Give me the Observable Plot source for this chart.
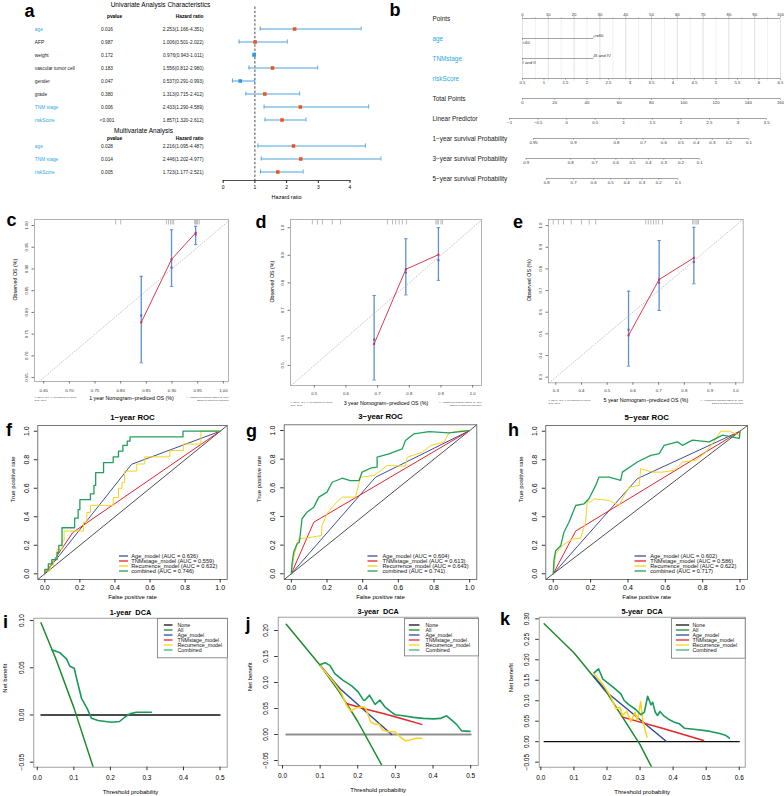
<!DOCTYPE html>
<html><head><meta charset="utf-8">
<script src="https://cdn.jsdelivr.net/npm/d3@7"></script>
<script src="https://cdn.jsdelivr.net/npm/@observablehq/plot@0.6"></script>
<style>
body{margin:0;background:#fff;}
#page{position:relative;width:784px;height:796px;overflow:hidden;background:#fff;font-family:"Liberation Sans",Arial,Helvetica,sans-serif;}
.letter{position:absolute;font-weight:bold;font-size:18px;line-height:18px;color:#000;}
</style></head>
<body><div id="page"></div>
<script>
// ================= DATA =================
// a: forest plot
const faLabels = ["age","AFP","weight","vascular tumor cell","gender","grade","TNM stage","riskScore"];
const faP = ["0.016","0.987","0.172","0.183","0.047","0.380","0.006","<0.001"];
const faHR = [2.253,1.006,0.976,1.556,0.537,1.313,2.433,1.857];
const faLo = [1.166,0.501,0.943,0.812,0.291,0.715,1.290,1.320];
const faHi = [4.351,2.022,1.011,2.980,0.993,2.412,4.589,2.612];
const faSig = [1,0,0,0,0,0,1,1];
const maLabels = ["age","TNM stage","riskScore"];
const maP = ["0.028","0.014","0.005"];
const maHR = [2.216,2.446,1.723];
const maLo = [1.095,1.202,1.177];
const maHi = [4.487,4.977,2.521];
const forestTicks = [0,1,2,3,4];

// b: nomogram
const nomoKeys = ["Points","age","TNMstage","riskScore","Total Points","Linear Predictor","1\u2212year survival Probability","3\u2212year survival Probability","5\u2212year survival Probability"];
const nomoBlue = ["age","TNMstage","riskScore"];
const pointsTicks = [0,10,20,30,40,50,60,70,80,90,100];
const pointsMinor = [5,15,25,35,45,55,65,75,85,95];
const ageLevels = ["<60",">=60"];
const agePoints = [0,27.6];
const tnmLevels = ["I and II","III and IV"];
const tnmPoints = [0,27.6];
const riskTicks = [0.5,1,1.5,2,2.5,3,3.5,4,4.5,5,5.5,6,6.5];
const totalTicks = [0,20,40,60,80,100,120,140,160];
const lpTicks = [-1,-0.5,0,0.5,1,1.5,2,2.5,3,3.5];
const lpAxisPoints = [-5.0, 94.6];
const surv1Labels = ["0.95","0.9","0.8","0.7","0.6","0.5","0.4","0.3","0.2","0.1"];
const surv1LP = [-0.58,0.12,0.87,1.34,1.70,2.00,2.27,2.55,2.84,3.19];
const surv3Labels = ["0.9","0.8","0.7","0.6","0.5","0.4","0.3","0.2","0.1"];
const surv3LP = [-0.71,0.07,0.49,0.86,1.15,1.43,1.70,2.00,2.33];
const surv5Labels = ["0.8","0.7","0.6","0.5","0.4","0.3","0.2","0.1"];
const surv5LP = [-0.35,0.12,0.47,0.77,1.05,1.32,1.61,1.95];

// c-e: calibration
const calC = {pred:[0.840,0.899,0.946], obs:[0.777,0.922,0.983], km:[0.793,0.903,0.979], lo:[0.684,0.860,0.956], hi:[0.883,0.990,0.998],
  rug:[0.79,0.80,0.889,0.893,0.897,0.90,0.903,0.944,0.946,0.948,0.95,0.953]};
const calD = {pred:[0.689,0.789,0.892], obs:[0.578,0.849,0.902], km:[0.594,0.837,0.882], lo:[0.447,0.756,0.809], hi:[0.754,0.960,1.0],
  rug:[0.494,0.51,0.526,0.557,0.583,0.731,0.747,0.757,0.768,0.778,0.791,0.884,0.888,0.892,0.9,0.905]};
const calE = {pred:[0.583,0.702,0.837], obs:[0.493,0.751,0.851], km:[0.519,0.736,0.831], lo:[0.351,0.608,0.731], hi:[0.697,0.931,0.992],
  rug:[0.29,0.31,0.33,0.36,0.40,0.43,0.455,0.65,0.66,0.67,0.68,0.69,0.70,0.715,0.832,0.838,0.845,0.85,0.855]};
const calTicksC = [0.65,0.70,0.75,0.80,0.85,0.90,0.95,1.00];
const calTicksD = [0.5,0.6,0.7,0.8,0.9,1.0];
const calTicksE = [0.3,0.4,0.5,0.6,0.7,0.8,0.9,1.0];

// f-h: ROC
const modelNames = ["Age_model","TNMstage_model","Recurrence_model","combined"];
const aucF = [0.636,0.559,0.632,0.746];
const aucG = [0.604,0.613,0.643,0.741];
const aucH = [0.602,0.586,0.622,0.717];
const rocTicks = [0,0.2,0.4,0.6,0.8,1.0];
const ageF = [[0,0],[0.495,0.768],[1,1]];
const tnmF = [[0,0],[0.16,0.29],[1,1]];
const recF = [[0,0],[0,0.02],[0.03,0.02],[0.03,0.06],[0.05,0.06],[0.05,0.1],[0.07,0.1],[0.07,0.17],[0.098,0.17],[0.098,0.23],[0.11,0.23],[0.11,0.3],[0.22,0.3],[0.22,0.36],[0.24,0.36],[0.24,0.43],[0.26,0.43],[0.26,0.48],[0.39,0.48],[0.39,0.535],[0.42,0.535],[0.42,0.6],[0.44,0.6],[0.44,0.64],[0.455,0.64],[0.455,0.72],[0.524,0.72],[0.524,0.77],[0.57,0.77],[0.57,0.82],[0.713,0.82],[0.713,0.865],[0.79,0.865],[0.79,0.91],[0.89,0.91],[0.89,1],[1,1]];
const combF = [[0,0],[0,0.03],[0.02,0.03],[0.02,0.07],[0.04,0.07],[0.04,0.1],[0.07,0.1],[0.07,0.15],[0.08,0.15],[0.08,0.2],[0.098,0.2],[0.098,0.323],[0.17,0.323],[0.17,0.39],[0.19,0.39],[0.19,0.45],[0.2,0.45],[0.2,0.52],[0.26,0.52],[0.26,0.56],[0.28,0.56],[0.28,0.62],[0.29,0.62],[0.29,0.71],[0.335,0.71],[0.335,0.78],[0.39,0.78],[0.39,0.82],[0.42,0.82],[0.42,0.86],[0.445,0.86],[0.445,0.9],[0.47,0.9],[0.47,0.93],[0.486,0.93],[0.486,0.96],[0.788,0.96],[0.788,1],[1,1]];
const ageG = [[0,0],[0.472,0.674],[1,1]];
const tnmG = [[0,0],[0.126,0.36],[1,1]];
const recG = [[0,0],[0.013,0.116],[0.041,0.244],[0.116,0.256],[0.169,0.267],[0.172,0.337],[0.2,0.419],[0.238,0.477],[0.285,0.535],[0.36,0.535],[0.388,0.674],[0.463,0.686],[0.538,0.756],[0.64,0.751],[0.65,0.814],[0.734,0.849],[0.781,0.895],[0.856,0.919],[0.884,0.984],[0.959,1],[1,1]];
const combG = [[0,0],[0.004,0.07],[0.013,0.15],[0.032,0.21],[0.045,0.22],[0.06,0.384],[0.088,0.43],[0.126,0.465],[0.154,0.535],[0.2,0.57],[0.229,0.639],[0.285,0.667],[0.33,0.65],[0.379,0.651],[0.397,0.709],[0.45,0.74],[0.481,0.744],[0.481,0.814],[0.547,0.837],[0.622,0.872],[0.64,0.93],[0.688,0.977],[0.772,0.993],[0.884,0.984],[1,1]];
const ageH = [[0,0],[0.45,0.667],[1,1]];
const tnmH = [[0,0],[0.12,0.30],[1,1]];
const recH = [[0,0],[0.013,0.139],[0.048,0.197],[0.102,0.244],[0.146,0.249],[0.173,0.361],[0.182,0.514],[0.2,0.502],[0.218,0.526],[0.299,0.514],[0.352,0.479],[0.37,0.526],[0.406,0.608],[0.46,0.62],[0.468,0.737],[0.531,0.713],[0.584,0.713],[0.647,0.725],[0.692,0.784],[0.763,0.796],[0.817,0.854],[0.853,0.913],[0.897,1.0],[0.942,1.0],[1,0.97],[1,1]];
const combH = [[0,0],[0.004,0.10],[0.013,0.162],[0.04,0.197],[0.057,0.291],[0.084,0.361],[0.12,0.479],[0.165,0.491],[0.191,0.526],[0.227,0.62],[0.245,0.678],[0.299,0.678],[0.361,0.655],[0.37,0.713],[0.45,0.784],[0.522,0.831],[0.567,0.843],[0.594,0.901],[0.665,0.925],[0.692,0.901],[0.745,0.937],[0.835,0.925],[0.906,0.972],[0.996,0.949],[1,1]];

// i-k: DCA
const dcaNames = ["None","All","Age_model","TNMstage_model","Recurrence_model","Combined"];
const noneI = [[0.01,0],[0.5,0]];
const allI = [[0.01,0.0976],[0.05,0.060],[0.1,0.0078],[0.153,-0.0553]];
const combI = [[0.039,0.069],[0.062,0.0658],[0.08,0.0594],[0.089,0.0516],[0.101,0.0495],[0.11,0.0347],[0.121,0.0177],[0.137,0.0065],[0.148,-0.0034],[0.166,-0.0059],[0.203,-0.0077],[0.225,-0.0069],[0.239,-0.0024],[0.253,0.0012],[0.271,0.0029],[0.312,0.0029]];
const noneJ = [[0.01,0],[0.5,0]];
const allJ = [[0.01,0.212],[0.1,0.133],[0.15,0.083],[0.2,0.025],[0.263,-0.058]];
const ageJ = [[0.1,0.133],[0.153,0.088],[0.29,0.0]];
const tnmJ = [[0.17,0.0597],[0.22,0.049],[0.27,0.040],[0.32,0.030],[0.37,0.0195]];
const recJ = [[0.099,0.133],[0.139,0.098],[0.157,0.0788],[0.17,0.0565],[0.181,0.045],[0.197,0.0514],[0.216,0.0533],[0.222,0.0488],[0.234,0.0245],[0.246,0.0195],[0.257,0.0195],[0.266,0.0086],[0.281,0.0054],[0.299,0.0054],[0.312,-0.0042],[0.326,-0.0118],[0.339,-0.0105],[0.356,-0.0073],[0.37,-0.0073]];
const combJ = [[0.099,0.134],[0.113,0.138],[0.126,0.133],[0.139,0.117],[0.161,0.104],[0.184,0.0934],[0.201,0.082],[0.215,0.066],[0.219,0.066],[0.231,0.0756],[0.246,0.0578],[0.259,0.066],[0.272,0.0533],[0.286,0.045],[0.299,0.038],[0.321,0.036],[0.348,0.033],[0.374,0.031],[0.401,0.030],[0.419,0.031],[0.436,0.036],[0.449,0.028],[0.463,0.019],[0.476,0.007],[0.498,0.006]];
const noneK = [[0.01,0],[0.6,0]];
const allK = [[0.01,0.288],[0.1,0.217],[0.2,0.119],[0.3,-0.007],[0.335,-0.062]];
const ageK = [[0.16,0.16],[0.205,0.117],[0.38,0.0005]];
const tnmK = [[0.247,0.06],[0.37,0.032],[0.492,0.003]];
const recK = [[0.161,0.166],[0.187,0.141],[0.212,0.1087],[0.227,0.0803],[0.239,0.0843],[0.247,0.064],[0.26,0.0745],[0.272,0.0493],[0.285,0.072],[0.292,0.0518],[0.302,0.098],[0.308,0.0518],[0.316,0.0273],[0.321,0.011]];
const combK = [[0.161,0.168],[0.1745,0.178],[0.187,0.1536],[0.202,0.1438],[0.222,0.1306],[0.242,0.117],[0.252,0.1006],[0.267,0.09],[0.287,0.0786],[0.302,0.0657],[0.313,0.072],[0.323,0.111],[0.333,0.09],[0.338,0.0965],[0.346,0.072],[0.353,0.064],[0.36,0.0737],[0.373,0.0623],[0.388,0.054],[0.403,0.0477],[0.419,0.0436],[0.434,0.033],[0.469,0.0298],[0.509,0.0257],[0.544,0.0193],[0.56,0.0151],[0.57,0.0086]];
const dcaTicksX5 = [0,0.1,0.2,0.3,0.4,0.5];
const dcaTicksX6 = [0,0.1,0.2,0.3,0.4,0.5,0.6];
const dcaTicksYI = [-0.05,0,0.05,0.10];
const dcaTicksYJ = [-0.05,0,0.05,0.10,0.15,0.20];
const dcaTicksYK = [-0.05,0,0.05,0.10,0.15,0.20,0.25,0.30];

// ================= RENDER =================
const FONT = "'Liberation Sans', Arial, Helvetica, sans-serif";
const page = document.getElementById("page");
function put(node, left, top){ node.style.position = "absolute"; node.style.left = left + "px"; node.style.top = top + "px"; page.appendChild(node); }
function st(fs){ return {fontFamily: FONT, fontSize: fs + "px", background: "transparent", overflow: "visible", color: "#000"}; }
const hbar = {draw(ctx, size){ const r = Math.sqrt(size / Math.PI); ctx.moveTo(-r, 0); ctx.lineTo(r, 0); }};
const hright = {draw(ctx, size){ const r = Math.sqrt(size / Math.PI); ctx.moveTo(0, 0); ctx.lineTo(r, 0); }};
const vdown = {draw(ctx, size){ const r = Math.sqrt(size / Math.PI); ctx.moveTo(0, 0); ctx.lineTo(0, r); }};
const XY = {x: d => d[0], y: d => d[1]};

// ---- a ----
{
  const uni = faLabels.map((label, i) => ({key: "u" + i, label, p: faP[i], hr: faHR[i], lo: faLo[i], hi: faHi[i], sig: faSig[i]}));
  const mul = maLabels.map((label, i) => ({key: "m" + i, label, p: maP[i], hr: maHR[i], lo: maLo[i], hi: maHi[i], sig: 1}));
  const fr = uni.concat(mul);
  const dom = ["h1", ...uni.map(d => d.key), "gap", ...mul.map(d => d.key)];
  const f3 = d3.format(".3f");
  const bar = "#4aa3de";
  const ML = 222.7;
  const p = Plot.plot({
    width: 390, height: 205, marginLeft: ML, marginRight: 40.5, marginTop: 6.5, marginBottom: 25,
    x: {domain: d3.extent(forestTicks), axis: null},
    y: {type: "band", domain: dom, padding: 0, axis: null},
    style: st(4.8),
    marks: [
      Plot.ruleX([1], {stroke: "#333", strokeDasharray: "2.4,1.8", strokeWidth: 0.9}),
      Plot.ruleY(fr, {y: "key", x1: "lo", x2: "hi", stroke: bar, strokeWidth: 1}),
      Plot.tickX(fr, {y: "key", x: "lo", stroke: bar, strokeWidth: 0.9, insetTop: 4.4, insetBottom: 4.4}),
      Plot.tickX(fr, {y: "key", x: "hi", stroke: bar, strokeWidth: 0.9, insetTop: 4.4, insetBottom: 4.4}),
      Plot.dot(fr.filter(d => d.hr >= 1), {y: "key", x: "hr", symbol: "square", r: 2, fill: "#f0521f"}),
      Plot.dot(fr.filter(d => d.hr < 1), {y: "key", x: "hr", symbol: "square", r: 2, fill: "#2e96db"}),
      Plot.text(fr.filter(d => d.sig), {y: "key", text: "label", frameAnchor: "left", dx: 34.3 - ML, textAnchor: "start", fill: "#2aaae2"}),
      Plot.text(fr.filter(d => !d.sig), {y: "key", text: "label", frameAnchor: "left", dx: 34.3 - ML, textAnchor: "start", fill: "#222"}),
      Plot.text(fr, {y: "key", text: "p", frameAnchor: "left", dx: 106.5 - ML, textAnchor: "middle", fill: "#222"}),
      Plot.text(fr, {y: "key", text: d => `${f3(d.hr)}(${f3(d.lo)}-${f3(d.hi)})`, frameAnchor: "left", dx: 203 - ML, textAnchor: "end", fill: "#222"}),
      Plot.text(["pvalue"], {y: () => "h1", frameAnchor: "left", dx: 106.5 - ML, dy: 0.8, fontWeight: "bold"}),
      Plot.text(["Hazard ratio"], {y: () => "h1", frameAnchor: "left", dx: 203 - ML, dy: 0.8, textAnchor: "end", fontWeight: "bold"}),
      Plot.text(["pvalue"], {y: () => "gap", frameAnchor: "left", dx: 106.5 - ML, dy: 5.7, fontWeight: "bold"}),
      Plot.text(["Hazard ratio"], {y: () => "gap", frameAnchor: "left", dx: 203 - ML, dy: 5.7, textAnchor: "end", fontWeight: "bold"}),
      Plot.text(["Univariate Analysis Characteristics"], {frameAnchor: "top-left", dx: 160 - ML, dy: -5, textAnchor: "middle", fontSize: 6.5}),
      Plot.text(["Multivariate Analysis"], {y: () => "gap", frameAnchor: "left", dx: 143 - ML, dy: -2.3, textAnchor: "middle", fontSize: 6.5}),
      Plot.frame({anchor: "bottom", stroke: "#222", strokeWidth: 0.8}),
      Plot.axisX({ticks: forestTicks, tickFormat: d3.format("d"), tickSize: 3, tickPadding: 2, fontSize: 5, label: null, stroke: "#222"}),
      Plot.text(["Hazard ratio"], {frameAnchor: "bottom", dy: 18, fontSize: 5.5})
    ]
  });
  put(p, 0, 0);
}

// ---- b ----
{
  const H = 196, mT = 5.35, mB = 4.65, bw = (H - mT - mB) / nomoKeys.length;
  const K = nomoKeys;
  const riskPts = v => (v - riskTicks[0]) / (riskTicks[riskTicks.length - 1] - riskTicks[0]) * 100;
  const totalPts = v => v / totalTicks[totalTicks.length - 1] * 100;
  const lpPts = v => lpAxisPoints[0] + (v - lpTicks[0]) / (lpTicks[lpTicks.length - 1] - lpTicks[0]) * (lpAxisPoints[1] - lpAxisPoints[0]);
  const num = v => String(v).replace("-", "\u2212");
  const down = [
    ...riskTicks.map(v => ({row: K[3], x: riskPts(v), label: num(v)})),
    ...totalTicks.map(v => ({row: K[4], x: totalPts(v), label: num(v)})),
    ...lpTicks.map(v => ({row: K[5], x: lpPts(v), label: num(v)})),
    ...surv1LP.map((v, i) => ({row: K[6], x: lpPts(v), label: surv1Labels[i]})),
    ...surv3LP.map((v, i) => ({row: K[7], x: lpPts(v), label: surv3Labels[i]})),
    ...surv5LP.map((v, i) => ({row: K[8], x: lpPts(v), label: surv5Labels[i]}))
  ];
  const up = pointsTicks.map(v => ({row: K[0], x: v, label: String(v)}));
  const cats = [
    {row: K[1], x: agePoints[0], label: ageLevels[0], above: false},
    {row: K[1], x: agePoints[1], label: ageLevels[1], above: true},
    {row: K[2], x: tnmPoints[0], label: tnmLevels[0], above: false},
    {row: K[2], x: tnmPoints[1], label: tnmLevels[1], above: true}
  ];
  const segs = [{row: K[0], a: pointsTicks[0], b: pointsTicks[pointsTicks.length - 1]},
    {row: K[1], a: agePoints[0], b: agePoints[1]}, {row: K[2], a: tnmPoints[0], b: tnmPoints[1]},
    ...K.slice(3).map(row => { const e = d3.extent(down.filter(d => d.row === row), d => d.x); return {row, a: e[0], b: e[1]}; })];
  const lineC = "#666";
  const p = Plot.plot({
    width: 394, height: H, marginLeft: 132, marginRight: 4, marginTop: mT, marginBottom: mB,
    x: {domain: d3.extent(pointsTicks), axis: null},
    y: {type: "band", domain: K, padding: 0, axis: null},
    style: st(4.3),
    marks: [
      Plot.ruleX(pointsMinor, {x: d => d, y1: () => K[0], y2: () => K[3], insetTop: bw / 2, insetBottom: bw / 2 - 3, stroke: "#e9e9e9", strokeWidth: 0.6}),
      Plot.ruleX(pointsTicks, {x: d => d, y1: () => K[0], y2: () => K[3], insetTop: bw / 2, insetBottom: bw / 2 - 3, stroke: "#cfcfcf", strokeWidth: 0.6}),
      Plot.ruleY(segs, {y: "row", x1: "a", x2: "b", stroke: lineC, strokeWidth: 0.6}),
      Plot.tickX(up, {x: "x", y: "row", insetTop: bw / 2 - 2.2, insetBottom: bw / 2, stroke: lineC, strokeWidth: 0.5}),
      Plot.tickX(pointsMinor, {x: d => d, y: () => K[0], insetTop: bw / 2 - 1.3, insetBottom: bw / 2, stroke: lineC, strokeWidth: 0.5}),
      Plot.tickX(down, {x: "x", y: "row", insetTop: bw / 2, insetBottom: bw / 2 - 2.2, stroke: lineC, strokeWidth: 0.5}),
      Plot.tickX(cats.filter(d => d.above), {x: "x", y: "row", insetTop: bw / 2 - 2.2, insetBottom: bw / 2, stroke: lineC, strokeWidth: 0.5}),
      Plot.tickX(cats.filter(d => !d.above), {x: "x", y: "row", insetTop: bw / 2, insetBottom: bw / 2 - 2.2, stroke: lineC, strokeWidth: 0.5}),
      Plot.text(up, {x: "x", y: "row", text: "label", dy: -4.0, fill: "#333"}),
      Plot.text(down, {x: "x", y: "row", text: "label", dy: 4.3, fill: "#333"}),
      Plot.text(cats.filter(d => d.above), {x: "x", y: "row", text: "label", dy: -3.2, textAnchor: "start", fill: "#333"}),
      Plot.text(cats.filter(d => !d.above), {x: "x", y: "row", text: "label", dy: 4.3, textAnchor: "start", fill: "#333"}),
      Plot.text(K.filter(k => nomoBlue.includes(k)), {y: d => d, text: d => d, frameAnchor: "left", dx: -90, textAnchor: "start", fontSize: 6.4, fill: "#2aaae2"}),
      Plot.text(K.filter(k => !nomoBlue.includes(k)), {y: d => d, text: d => d, frameAnchor: "left", dx: -90, textAnchor: "start", fontSize: 6.4, fill: "#222"})
    ]
  });
  put(p, 390, 0);
}

// ---- c, d, e ----
function calibPlot(c, cal, g) {
  const pts = cal.pred.map((p, i) => ({p, obs: cal.obs[i], km: cal.km[i], lo: cal.lo[i], hi: cal.hi[i]}));
  const dLo = Math.max(g.xd[0], g.yd[0]), dHi = Math.min(g.xd[1], g.yd[1]);
  const fs = 4.3;
  const eb = "#5d8fd1";
  return Plot.plot({
    width: g.w, height: 200, marginLeft: g.ml, marginRight: g.mr, marginTop: 9, marginBottom: g.mb,
    x: {domain: g.xd, axis: null}, y: {domain: g.yd, axis: null},
    style: st(fs),
    marks: [
      Plot.link([0], {x1: () => dLo, y1: () => dLo, x2: () => dHi, y2: () => dHi, stroke: "#a0a0a0", strokeDasharray: "1.2,1.2", strokeWidth: 0.7}),
      Plot.dot(cal.rug, {x: d => d, frameAnchor: "top", symbol: vdown, r: 5, stroke: "#777", strokeWidth: 0.5, fill: "none"}),
      Plot.ruleX(pts, {x: "p", y1: "lo", y2: "hi", stroke: eb, strokeWidth: 1.3}),
      Plot.dot(pts, {x: "p", y: "lo", symbol: hbar, r: 1.7, stroke: eb, strokeWidth: 1, fill: "none"}),
      Plot.dot(pts, {x: "p", y: "hi", symbol: hbar, r: 1.7, stroke: eb, strokeWidth: 1, fill: "none"}),
      Plot.line(pts, {x: "p", y: "obs", stroke: "#d5283a", strokeWidth: 0.9}),
      Plot.dot(pts, {x: "p", y: "km", symbol: "square", r: 1.1, fill: "#5656d9"}),
      Plot.dot(pts, {x: "p", y: "obs", symbol: "square", r: 1.1, fill: "#d5283a"}),
      Plot.frame({stroke: "#a0a0a0", strokeWidth: 0.8}),
      Plot.axisX({ticks: g.ticks, tickFormat: g.fmt, tickSize: 2.5, tickPadding: g.xpad, fontSize: fs, label: null, stroke: "#777", fill: "#333"}),
      Plot.axisY({ticks: g.ticks, tickFormat: g.fmt, tickSize: 2.5, tickPadding: 4, tickRotate: -90, textAnchor: "middle", lineAnchor: "bottom", fontSize: fs, label: null, stroke: "#777", fill: "#333"}),
      Plot.text([g.xlabel], {frameAnchor: "bottom", dy: g.xt, fontSize: 5.3}),
      Plot.text(["Observed OS (%)"], {frameAnchor: "left", dx: g.ytx, rotate: -90, fontSize: 5.3}),
      Plot.text(["n=237 d=43 p=1, 80 subjects per group"], {frameAnchor: "bottom-left", dy: g.xt - 1.6, textAnchor: "start", fontSize: 2.4, fill: "#444"}),
      Plot.text(["Gray: ideal"], {frameAnchor: "bottom-left", dy: g.xt + 1.4, textAnchor: "start", fontSize: 2.4, fill: "#444"}),
      Plot.text(["X - resampling optimism added, B=1000"], {frameAnchor: "bottom-right", dy: g.xt - 1.6, textAnchor: "end", fontSize: 2.4, fill: "#444"}),
      Plot.text(["Based on observed-predicted"], {frameAnchor: "bottom-right", dy: g.xt + 1.4, textAnchor: "end", fontSize: 2.4, fill: "#444"})
    ]
  });
}
put(calibPlot("c", calC, {w: 262, ml: 34, mr: 34, mb: 29, xd: [0.632, 1.010], yd: [0.641, 1.0138], ticks: calTicksC, fmt: ".2f", xpad: 5, xt: 18.5, ytx: -19, xlabel: "1 year Nomogram\u2212prediced OS (%)"}), 0, 210);
put(calibPlot("d", calD, {w: 262, ml: 32, mr: 39, mb: 25, xd: [0.425, 1.028], yd: [0.427, 1.03], ticks: calTicksD, fmt: ".1f", xpad: 3.5, xt: 19, ytx: -18, xlabel: "3 year Nomogram\u2212prediced OS (%)"}), 258, 210);
put(calibPlot("e", calE, {w: 264, ml: 28, mr: 41.3, mb: 27.7, xd: [0.2716, 1.029], yd: [0.274, 1.028], ticks: calTicksE, fmt: ".1f", xpad: 3.5, xt: 19.4, ytx: -19, xlabel: "5 year Nomogram\u2212prediced OS (%)"}), 520, 210);

// ---- f, g, h ----
const RC = {age: "#3b4f9c", tnm: "#e3242b", rec: "#f7d21c", comb: "#22a05b"};
function rocPlot(r) {
  const dom = [-0.04, 1.04];
  return Plot.plot({
    width: r.w, height: 200, marginLeft: r.ml, marginRight: r.w - r.ml - r.fw, marginTop: r.mt, marginBottom: 200 - r.mt - r.fh,
    x: {domain: dom, axis: null}, y: {domain: dom, axis: null},
    style: st(7),
    marks: [
      Plot.link([0], {x1: () => dom[0], y1: () => dom[0], x2: () => dom[1], y2: () => dom[1], stroke: "#222", strokeWidth: 0.8}),
      Plot.line(r.age, {...XY, stroke: RC.age, strokeWidth: 1}),
      Plot.line(r.tnm, {...XY, stroke: RC.tnm, strokeWidth: 1}),
      Plot.line(r.rec, {...XY, stroke: RC.rec, strokeWidth: 1}),
      Plot.line(r.comb, {...XY, stroke: RC.comb, strokeWidth: 1.3}),
      Plot.frame({stroke: "#555", strokeWidth: 0.8}),
      Plot.axisX({ticks: rocTicks, tickFormat: ".1f", tickSize: 3.5, tickPadding: 1.7, fontSize: 7, label: null, stroke: "#333"}),
      Plot.axisY({ticks: rocTicks, tickFormat: ".1f", tickSize: 3.5, tickPadding: 5.5, tickRotate: -90, textAnchor: "middle", lineAnchor: "bottom", fontSize: 7, label: null, stroke: "#333"}),
      Plot.text([r.title], {frameAnchor: "top", dy: -11.5, fontWeight: "bold", fontSize: 7.8}),
      Plot.text(["False positive rate"], {frameAnchor: "bottom", dy: 19, fontSize: 6}),
      Plot.text(["True positive rate"], {frameAnchor: "left", dx: -25, rotate: -90, fontSize: 6})
    ]
  });
}
put(rocPlot({w: 262, ml: 37.3, fw: 189.4, mt: 20, fh: 154, title: "1\u2212year ROC", age: ageF, tnm: tnmF, rec: recF, comb: combF}), 0, 405);
put(rocPlot({w: 262, ml: 33.7, fw: 192.6, mt: 19.3, fh: 154.7, title: "3\u2212year ROC", age: ageG, tnm: tnmG, rec: recG, comb: combG}), 250, 405);
put(rocPlot({w: 272, ml: 33.3, fw: 201.7, mt: 20, fh: 154, title: "5\u2212year ROC", age: ageH, tnm: tnmH, rec: recH, comb: combH}), 512, 405);

// ---- i, j, k ----
const DC = {none: "#111", all: "#1f8b2a", age: "#2f4d9e", tnm: "#e5252a", rec: "#ffd21a", comb: "#19995a"};
function dcaPlot(d) {
  const m = [];
  m.push(Plot.line(d.none, {...XY, stroke: d.noneC, strokeWidth: d.noneW}));
  m.push(Plot.line(d.all, {...XY, stroke: DC.all, strokeWidth: 1.5, clip: true}));
  if (d.age) m.push(Plot.line(d.age, {...XY, stroke: DC.age, strokeWidth: 1.5}));
  if (d.tnm) m.push(Plot.line(d.tnm, {...XY, stroke: DC.tnm, strokeWidth: 1.5}));
  if (d.rec) m.push(Plot.line(d.rec, {...XY, stroke: DC.rec, strokeWidth: 1.5}));
  m.push(Plot.line(d.comb, {...XY, stroke: DC.comb, strokeWidth: 1.6}));
  return Plot.plot({
    width: d.w, height: 198, marginLeft: d.ml, marginRight: d.mr, marginTop: d.mt, marginBottom: d.mb,
    x: {domain: d.xd, axis: null}, y: {domain: d.yd, axis: null},
    style: st(6.5),
    marks: [
      ...m,
      Plot.frame({stroke: "#888", strokeWidth: 0.8}),
      Plot.axisX({ticks: d.xt, tickFormat: ".1f", tickSize: 3.5, tickPadding: 4.5, fontSize: 6.5, label: null, stroke: "#333"}),
      Plot.axisY({ticks: d.yt, tickFormat: ".2f", tickSize: 3.5, tickPadding: 6.5, tickRotate: -90, textAnchor: "middle", lineAnchor: "bottom", fontSize: 6.5, label: null, stroke: "#333"}),
      Plot.text([d.title], {frameAnchor: "top", dy: -8, fontWeight: "bold", fontSize: 7.3}),
      Plot.text(["Threshold probability"], {frameAnchor: "bottom", dy: 26.5, fontSize: 6}),
      Plot.text(["Net benefit"], {frameAnchor: "left", dx: -28.6, rotate: -90, fontSize: 6})
    ]
  });
}
put(dcaPlot({w: 262, ml: 33.3, mr: 35.3, mt: 19.7, mb: 29.3, xd: [-0.0096, 0.5196], yd: [-0.0553, 0.1025], xt: dcaTicksX5, yt: dcaTicksYI, title: "1-year\u00a0 DCA", none: noneI, noneC: DC.none, noneW: 1.3, all: allI, comb: combI}), 0, 598);
put(dcaPlot({w: 262, ml: 32.7, mr: 29.3, mt: 18.7, mb: 31, xd: [-0.0114, 0.520], yd: [-0.0596, 0.2256], xt: dcaTicksX5, yt: dcaTicksYJ, title: "3-year\u00a0 DCA", none: noneJ, noneC: "#8f8f8f", noneW: 2, all: allJ, age: ageJ, tnm: tnmJ, rec: recJ, comb: combJ}), 245, 598);
put(dcaPlot({w: 279, ml: 33.7, mr: 39.3, mt: 18.7, mb: 29.3, xd: [-0.005, 0.618], yd: [-0.0623, 0.304], xt: dcaTicksX6, yt: dcaTicksYK, title: "5-year\u00a0 DCA", none: noneK, noneC: DC.none, noneW: 1.3, all: allK, age: ageK, tnm: tnmK, rec: recK, comb: combK}), 505, 598);

// ---- legends ----
function legendPlot(names, colors, L) {
  const p = Plot.plot({
    width: L.w, height: L.h, margin: 0,
    y: {type: "band", domain: names, range: [L.y0 - L.dy / 2, L.y0 - L.dy / 2 + L.dy * names.length], padding: 0, axis: null},
    color: {type: "identity"},
    style: st(L.fs),
    marks: [
      L.box ? Plot.frame({fill: "#fff", stroke: "#777", strokeWidth: 0.8}) : null,
      Plot.dot(names, {y: d => d, frameAnchor: "left", dx: L.lx, symbol: hright, r: L.len, stroke: (d, i) => colors[i], strokeWidth: 1.3, fill: "none"}),
      Plot.text(names, {y: d => d, text: d => d, frameAnchor: "left", dx: L.tx, textAnchor: "start", fill: "#111"})
    ]
  });
  put(p, L.left, L.top);
}
const rocColors = [RC.age, RC.tnm, RC.rec, RC.comb];
const rocLabel = aucs => modelNames.map((n, i) => `${n} (AUC = ${d3.format(".3f")(aucs[i])})`);
legendPlot(rocLabel(aucF), rocColors, {left: 116, top: 550, w: 112, h: 26, y0: 4.3, dy: 5.6, lx: 2.5, len: 9, tx: 14.7, fs: 5.7});
legendPlot(rocLabel(aucG), rocColors, {left: 364, top: 550, w: 112, h: 26, y0: 4.3, dy: 5.6, lx: 3, len: 10, tx: 18, fs: 5.7});
legendPlot(rocLabel(aucH), rocColors, {left: 630, top: 550, w: 116, h: 26, y0: 4.3, dy: 5.6, lx: 4, len: 11.5, tx: 19.7, fs: 5.7});
const dcaColors = [DC.none, DC.all, DC.age, DC.tnm, DC.rec, "#3fb37a"];
legendPlot(dcaNames, dcaColors, {left: 156.7, top: 618, w: 70, h: 39.3, y0: 5.3, dy: 5.68, lx: 6.3, len: 8.7, tx: 20, fs: 5.3, box: true});
legendPlot(dcaNames, dcaColors, {left: 403.7, top: 618.3, w: 74, h: 37.4, y0: 5, dy: 5.68, lx: 4.3, len: 10.7, tx: 21, fs: 5.3, box: true});
legendPlot(dcaNames, dcaColors, {left: 671, top: 618.3, w: 73.7, h: 39.7, y0: 5, dy: 5.8, lx: 4.3, len: 13.4, tx: 21, fs: 5.3, box: true});

// ---- panel letters ----
const letters = [["a",24.5,17],["b",389.5,16],["c",6.5,225.7],["d",255.5,228],["e",513,228],["f",6,435.7],["g",246,437],["h",508,435.7],["i",3,628],["j",245.5,630],["k",500,625]];
for (const [t, x, b] of letters) { const el = document.createElement("div"); el.className = "letter"; el.textContent = t; el.style.left = x + "px"; el.style.top = (b - 15.2) + "px"; page.appendChild(el); }
</script></body></html>
